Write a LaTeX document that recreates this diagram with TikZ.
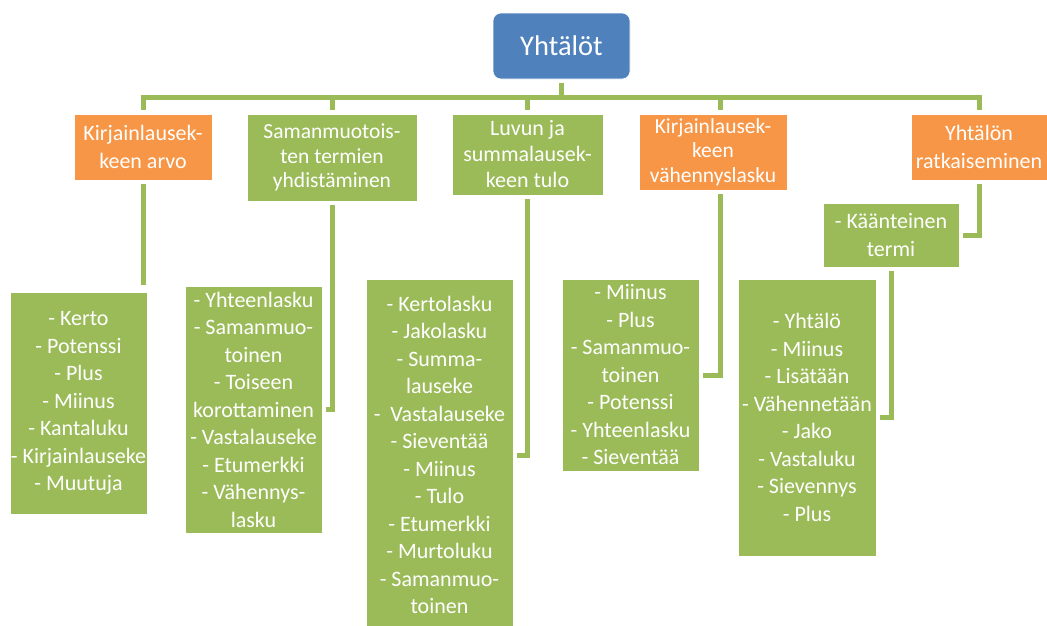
\documentclass[tikz,border=0pt]{standalone}
\usepackage{fontspec}
\setmainfont{Carlito}
\definecolor{boxblue}{HTML}{4F81BD}
\definecolor{boxorange}{HTML}{F79646}
\definecolor{boxgreen}{HTML}{9BBB59}
\tikzset{
  box/.style={rectangle, inner sep=0pt, outer sep=4pt, align=center,
    text=white, draw=white, line width=0.6pt,
    font=\fontsize{22}{27.5}\selectfont},
  tight/.style={font=\fontsize{21.5}{24.6}\selectfont},
  greenbox/.style={box, fill=boxgreen},
  orangebox/.style={box, fill=boxorange},
  rootbox/.style={box, fill=boxblue, rounded corners=8pt,
    font=\fontsize{28.5}{34}\selectfont},
  conn/.style={draw=boxgreen, line width=5pt, line cap=butt, line join=miter}
}
\begin{document}
\begin{tikzpicture}[x=1pt, y=-1pt]
\useasboundingbox (0,0) rectangle (1047,625);

% root
\node[rootbox, minimum width=137pt, minimum height=66pt] (top) at (561.5,46) {Yhtälöt};

% first level
\node[orangebox, minimum width=138pt, minimum height=66pt] (b1) at (143,147)
  {Kirjainlausek-\\keen arvo};
\node[greenbox, tight, minimum width=170pt, minimum height=87pt] (b2) at (332,157.5)
  {Samanmuotois-\\ten termien\\yhdistäminen};
\node[greenbox, font=\fontsize{22}{26}\selectfont, minimum width=151pt, minimum height=81pt] (b3) at (527.5,154.5)
  {Luvun ja\\summalausek-\\keen tulo};
\node[orangebox, tight, minimum width=148pt, minimum height=76pt] (b4) at (713,152)
  {Kirjainlausek-\\keen\\vähennyslasku};
\node[orangebox, minimum width=136pt, minimum height=66pt] (b5) at (979,147)
  {Yhtälön\\ratkaiseminen};

% second level
\node[greenbox, minimum width=137pt, minimum height=222pt] (c1) at (78.5,403)
  {- Kerto\\- Potenssi\\- Plus\\- Miinus\\- Kantaluku\\- Kirjainlauseke\\- Muutuja};
\node[greenbox, minimum width=137pt, minimum height=247pt] (c2) at (253.5,409.5)
  {- Yhteenlasku\\- Samanmuo-\\toinen\\- Toiseen\\korottaminen\\- Vastalauseke\\- Etumerkki\\- Vähennys-\\lasku};
\node[greenbox, minimum width=147pt, minimum height=352pt] (c3) at (439.5,455)
  {- Kertolasku\\- Jakolasku\\- Summa-\\lauseke\\-\ \ Vastalauseke\\- Sieventää\\- Miinus\\- Tulo\\- Etumerkki\\- Murtoluku\\- Samanmuo-\\toinen};
\node[greenbox, minimum width=137pt, minimum height=192pt] (c4) at (630.5,375)
  {- Miinus\\- Plus\\- Samanmuo-\\toinen\\- Potenssi\\- Yhteenlasku\\- Sieventää};
\node[greenbox, minimum width=136pt, minimum height=64pt] (k) at (891,235)
  {- Käänteinen\\termi};
\node[greenbox, minimum width=138pt, minimum height=277pt] (c5) at (807,417.5)
  {- Yhtälö\\- Miinus\\- Lisätään\\- Vähennetään\\- Jako\\- Vastaluku\\- Sievennys\\- Plus};

% connectors from the root to the first level
\coordinate (bar) at (561.5,97);
\draw[conn] (top.south) -- (top.south |- bar);
\draw[conn] (b1.north) |- (b5.north |- bar) -- (b5.north);
\draw[conn] (b2.north |- bar) -- (b2.north);
\draw[conn] (b3.north |- bar) -- (b3.north);
\draw[conn] ([xshift=7pt]b4.north |- bar) -- ([xshift=7pt]b4.north);

% connectors to the second level
\draw[conn] (b1.south) -- ([yshift=3pt]b1.south |- c1.north);
\draw[conn] (b2.south) |- (c2.east);
\draw[conn] (b3.south) |- (c3.east);
\draw[conn] ([xshift=7pt]b4.south) |- (c4.east);
\draw[conn] (b5.south) |- (k.east);
\draw[conn] (k.south) |- (c5.east);
\end{tikzpicture}
\end{document}
